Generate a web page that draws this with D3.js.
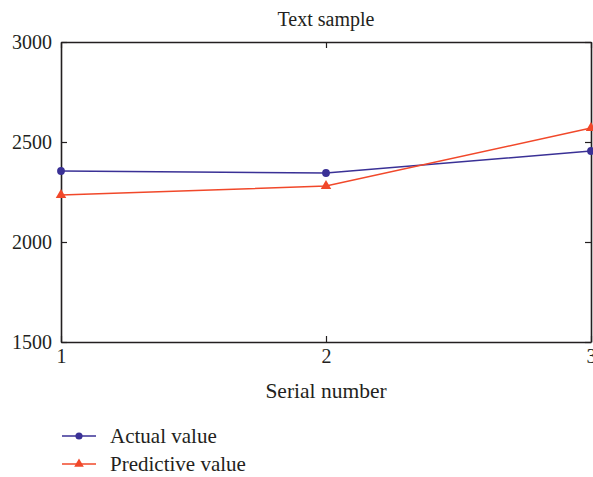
<!DOCTYPE html>
<html>
<head>
<meta charset="utf-8">
<script src="https://cdn.jsdelivr.net/npm/d3@7"></script>
<style>
  body { margin: 0; background: #fff; }
  text { font-family: "Liberation Serif", "Times New Roman", serif; fill: #231f20; }
  .axis path, .axis line { stroke: #231f20; }
</style>
</head>
<body>
<script>
// data
const serials = [1, 2, 3];
const actualValues = [2355, 2345, 2455];
const predictiveValues = [2235, 2280, 2570];
const yTicks = [1500, 2000, 2500, 3000];

const W = 593, H = 477;
const margin = { left: 61, right: 2, top: 42, bottom: 135 };
const innerW = W - margin.left - margin.right;
const innerH = H - margin.top - margin.bottom;

const svg = d3.select('body').append('svg')
    .attr('width', W)
    .attr('height', H);

const g = svg.append('g')
    .attr('transform', `translate(${margin.left},${margin.top})`);

const x = d3.scaleLinear().domain([1, 3]).range([0, innerW]);
const y = d3.scaleLinear().domain([1500, 3000]).range([innerH, 0]);

// frame + inward ticks
const frameStyle = sel => {
    sel.selectAll('path').attr('stroke-width', 1.6);
    sel.selectAll('line').attr('stroke-width', 1.2);
};

g.append('g').attr('class', 'axis')
    .attr('transform', `translate(0,${innerH})`)
    .call(d3.axisBottom(x).tickValues(serials).tickFormat(d3.format('d'))
        .tickSizeInner(-6).tickSizeOuter(0).tickPadding(7))
    .call(frameStyle)
    .call(a => a.selectAll('text').style('font-size', '20px'));

g.append('g').attr('class', 'axis')
    .call(d3.axisTop(x).tickValues(serials).tickFormat('')
        .tickSizeInner(-6).tickSizeOuter(0))
    .call(frameStyle);

g.append('g').attr('class', 'axis')
    .call(d3.axisLeft(y).tickValues(yTicks).tickFormat(d3.format('d'))
        .tickSizeInner(-6).tickSizeOuter(0).tickPadding(9))
    .call(frameStyle)
    .call(a => a.selectAll('text').style('font-size', '20px'));

g.append('g').attr('class', 'axis')
    .attr('transform', `translate(${innerW},0)`)
    .call(d3.axisRight(y).tickValues(yTicks).tickFormat('')
        .tickSizeInner(-6).tickSizeOuter(0))
    .call(frameStyle);

g.selectAll('.axis .domain').attr('fill', 'none');
g.selectAll('.axis .tick text').attr('fill', '#231f20');

// title and axis label
svg.append('text')
    .attr('x', margin.left + innerW / 2)
    .attr('y', 26)
    .attr('text-anchor', 'middle')
    .style('font-size', '20px')
    .text('Text sample');

svg.append('text')
    .attr('x', margin.left + innerW / 2)
    .attr('y', 398)
    .attr('text-anchor', 'middle')
    .style('font-size', '21.5px')
    .text('Serial number');

const series = [
    { name: 'Actual value', values: actualValues, color: '#3a3196', shape: d3.symbolCircle, size: 48 },
    { name: 'Predictive value', values: predictiveValues, color: '#f1482a', shape: d3.symbolTriangle, size: 48 }
];

const line = d3.line()
    .x((d, i) => x(serials[i]))
    .y(d => y(d));

series.forEach((s, idx) => {
    g.append('path')
        .datum(s.values)
        .attr('fill', 'none')
        .attr('stroke', s.color)
        .attr('stroke-width', 1.5)
        .attr('d', line);

    g.selectAll(null)
        .data(s.values)
        .enter().append('path')
        .attr('transform', (d, i) => `translate(${x(serials[i])},${y(d)})`)
        .attr('fill', s.color)
        .attr('d', d3.symbol().type(s.shape).size(s.size));

    // legend
    const ly = 436 + idx * 28;
    svg.append('line')
        .attr('x1', 62).attr('x2', 96)
        .attr('y1', ly).attr('y2', ly)
        .attr('stroke', s.color)
        .attr('stroke-width', 1.5);
    svg.append('path')
        .attr('transform', `translate(79,${ly})`)
        .attr('fill', s.color)
        .attr('d', d3.symbol().type(s.shape).size(40));
    svg.append('text')
        .attr('x', 110)
        .attr('y', ly + 7)
        .style('font-size', '21px')
        .text(s.name);
});
</script>
</body>
</html>
